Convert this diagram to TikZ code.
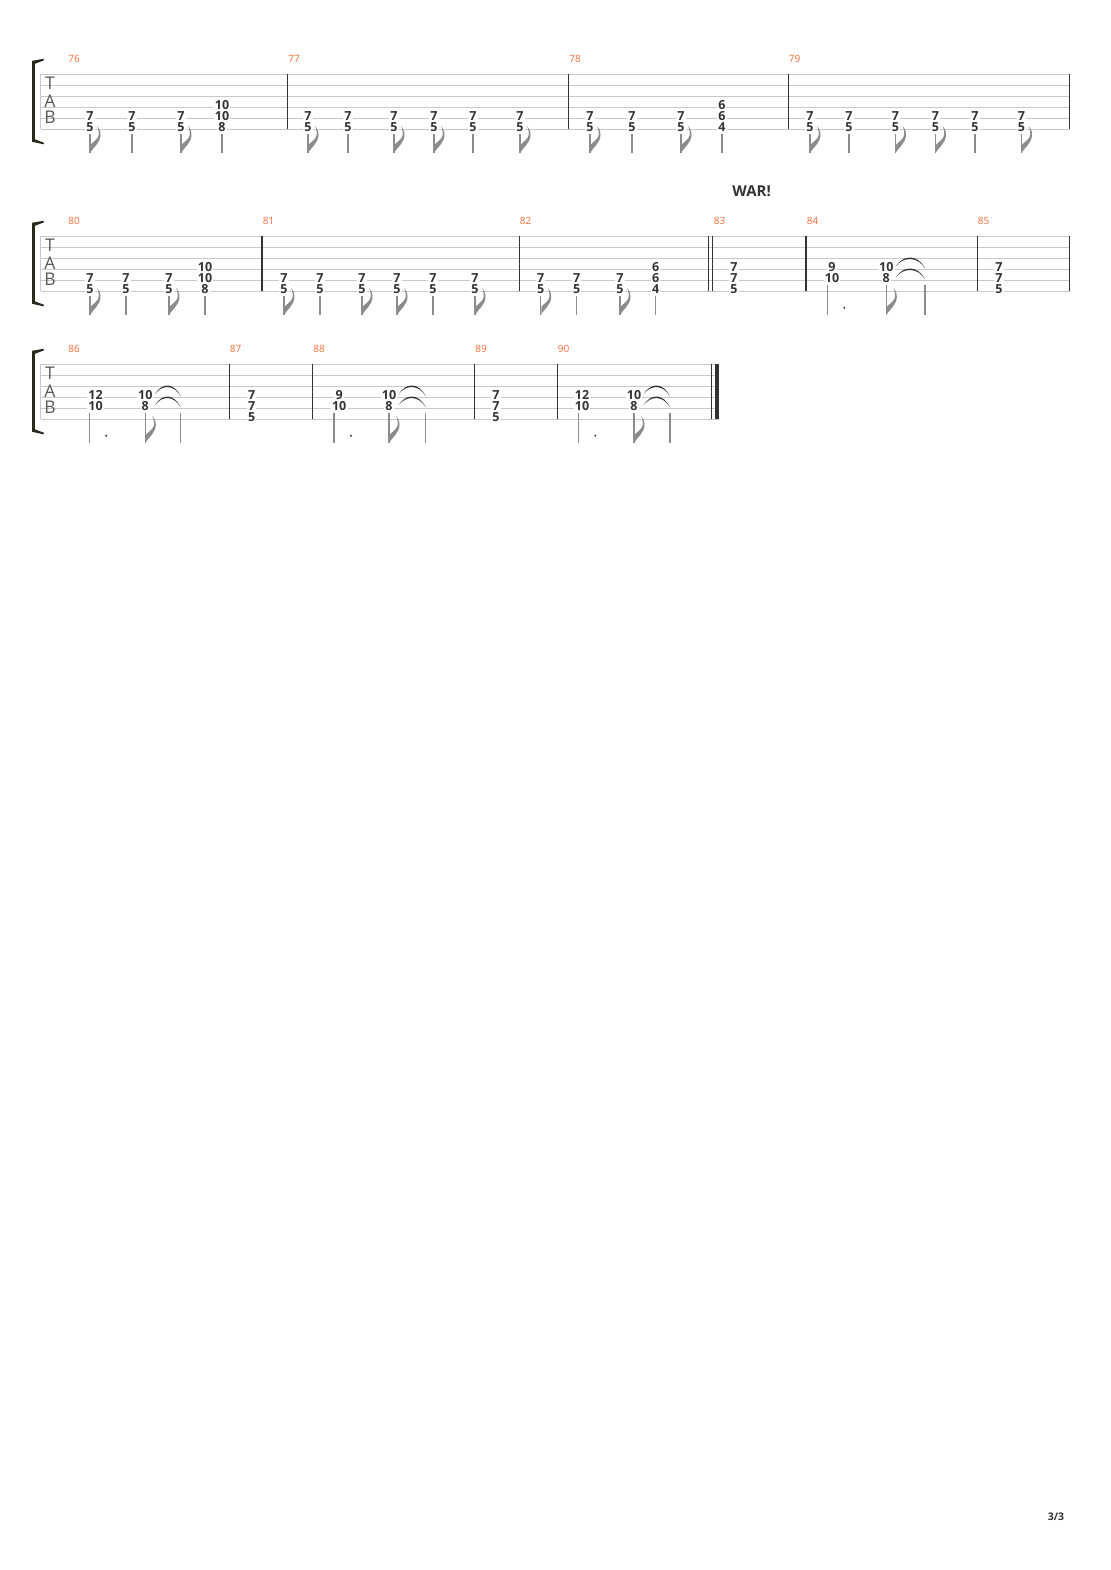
\documentclass[tikz,border=0pt]{standalone}
\usepackage{fontspec}
\setmainfont{Open Sans}
\pgfdeclarelayer{bg}
\pgfsetlayers{bg,main}
\definecolor{ink}{RGB}{51,51,51}
\definecolor{barnum}{RGB}{245,110,60}
\definecolor{staffgray}{RGB}{200,200,200}
\definecolor{stemgray}{RGB}{140,140,140}
\definecolor{brackink}{RGB}{40,40,28}
\tikzset{
    fret/.style={fill=white, text=ink, inner xsep=1.2pt, inner ysep=0.3pt, font=\bfseries\fontsize{12.5}{12.5}\selectfont},
    barnum/.style={text=barnum, inner sep=0pt, font=\fontsize{10}{10}\selectfont},
    tabletter/.style={text=black!65, inner sep=0pt, font=\fontsize{17.5}{17.5}\selectfont},
    staffline/.style={draw=staffgray, line width=0.8pt},
    barline/.style={draw=ink, line width=1.2pt},
    stem/.style={draw=stemgray, line width=1.2pt},
    flag/.pic={\fill[stemgray] (0,0) .. controls (3,-5) and (10.5,-10) .. (10.5,-18) .. controls (10.5,-22) and (9,-25) .. (7,-27) .. controls (8.3,-24.5) and (8.8,-22) .. (8.8,-18.5) .. controls (8.8,-14) and (3,-11) .. (0.6,-8) -- (0.6,0) -- cycle;}
}
\begin{document}
\begin{tikzpicture}[x=1pt,y=-1pt]
        \useasboundingbox (0,0) rectangle (1110,1570);
        \begin{pgfonlayer}{bg}
                \fill[white] (0,0) rectangle (1110,1570);
                \foreach \y/\e in {74.3/1069.7,236.3/1069.7,364.3/719} {
                        \foreach \k in {0,...,5} \draw[staffline] (40.5,\y+11*\k) -- (\e,\y+11*\k);
                        \draw[staffline] (40.5,\y) -- (40.5,\y+55);
                }
        \end{pgfonlayer}
        \foreach \y [count=\i] in {74.3,236.3,364.3} {
                \fill[brackink] (32.2,\y-13.5) -- (43.5,\y-15.5) -- (44,\y-14) -- (34.9,\y-10.5) -- (34.9,\y+65) -- (44,\y+68.5) -- (43.5,\y+70) -- (32.2,\y+67.5) -- cycle;
                \node[tabletter] (tt\i) at (50,\y+9.4) {T};
                \node[tabletter] (ta\i) at (50,\y+26.5) {A};
                \node[tabletter] (tb\i) at (50,\y+42.7) {B};
        }
        \foreach \x/\y in {287.7/74.3,568.3/74.3,788.3/74.3,1069.7/74.3,262/236.3,519.3/236.3,708.7/236.3,712.7/236.3,806/236.3,977.3/236.3,1069.7/236.3,229.3/364.3,312.5/364.3,474.3/364.3,557.3/364.3,711.7/364.3}
                \draw[barline] (\x,\y) -- (\x,\y+55);
        \fill[ink] (715,364.3) rectangle (719,419.3);
        \foreach \n/\x/\y in {76/74/74.3,77/294/74.3,78/575/74.3,79/794.5/74.3,80/74/236.3,81/268.5/236.3,82/525.5/236.3,83/719.5/236.3,84/812.5/236.3,85/983.5/236.3,86/74/364.3,87/235.5/364.3,88/319/364.3,89/481/364.3,90/563.5/364.3}
                \node[barnum] (m\n) at (\x,\y-15.3) {\n};
        \node[text=ink, inner sep=0pt, font=\bfseries\fontsize{15}{15}\selectfont] (war) at (751.7,191) {WAR!};
        \node[text=ink, inner sep=0pt, font=\bfseries\fontsize{10.5}{10.5}\selectfont] (page) at (1056,1517) {3/3};
        \foreach \x/\y/\f [count=\i] in {90/74.3/1,132/74.3/0,181/74.3/1,308/74.3/1,348/74.3/0,394/74.3/1,434/74.3/1,473/74.3/0,520/74.3/1,590/74.3/1,632/74.3/0,681/74.3/1,810/74.3/1,849/74.3/0,895.5/74.3/1,935.5/74.3/1,975/74.3/0,1021.5/74.3/1,90/236.3/1,126/236.3/0,169/236.3/1,284/236.3/1,320/236.3/0,362/236.3/1,397/236.3/1,433/236.3/0,475/236.3/1,540.7/236.3/1,576.7/236.3/0,620/236.3/1} {
                \node[fret] (hi\i) at (\x,\y+42) {7};
                \node[fret] (lo\i) at (\x,\y+53) {5};
                \draw[stem] (\x,\y+59.5) -- (\x,\y+78.5);
                \ifnum\f=1\relax \pic at (\x,\y+78.5) {flag}; \fi
        }
        \foreach \x/\y/\a/\b/\c [count=\i] in {222/74.3/10/10/8,722/74.3/6/6/4,205/236.3/10/10/8,655.7/236.3/6/6/4} {
                \node[fret] (qa\i) at (\x,\y+31) {\a};
                \node[fret] (qb\i) at (\x,\y+42) {\b};
                \node[fret] (qc\i) at (\x,\y+53) {\c};
                \draw[stem] (\x,\y+59.5) -- (\x,\y+78.5);
        }
        \foreach \x/\y [count=\i] in {734/236.3,999/236.3,251.7/364.3,496/364.3} {
                \node[fret] (wa\i) at (\x,\y+31) {7};
                \node[fret] (wb\i) at (\x,\y+42) {7};
                \node[fret] (wc\i) at (\x,\y+53) {5};
        }
        \foreach \s/\c/\y/\a/\b/\p/\q [count=\i] in {827.3/832/236.3/9/10/886.3/925,89.3/95.5/364.3/12/10/145.3/180.7,334/339.2/364.3/9/10/389/425.7,578.3/582/364.3/12/10/634/670} {
                \node[fret] (da\i) at (\c,\y+31) {\a};
                \node[fret] (db\i) at (\c,\y+42) {\b};
                \draw[stem] (\s,\y+48.5) -- (\s,\y+78.5);
                \fill[ink] (\s+17,\y+71.4) circle[radius=1.1pt];
                \node[fret] (ea\i) at (\p,\y+31) {10};
                \node[fret] (eb\i) at (\p,\y+42) {8};
                \draw[stem] (\p,\y+48.5) -- (\p,\y+78.5);
                \pic at (\p,\y+78.5) {flag};
                \draw[stem] (\q,\y+48.5) -- (\q,\y+78.5);
                \foreach \t in {33,44}
                        \fill[ink] (\p+9.5,\y+\t-3) .. controls (\p+17,\y+\t-15) and (\q-7,\y+\t-15) .. (\q,\y+\t-1) .. controls (\q-7,\y+\t-13) and (\p+17,\y+\t-13) .. (\p+9.5,\y+\t-3) -- cycle;
        }
\end{tikzpicture}
\end{document}
